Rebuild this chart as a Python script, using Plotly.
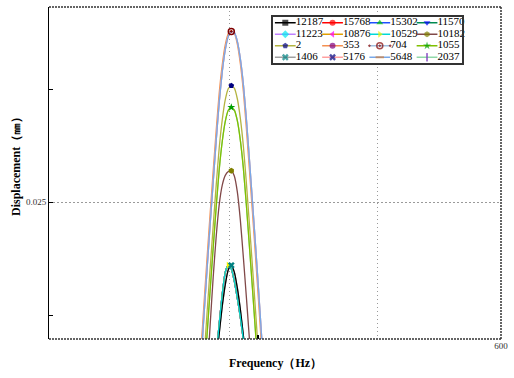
import plotly.graph_objects as go

# ---------------- data ----------------
freq_hz = [194, 198, 202, 206, 210, 214, 218, 222, 226, 230, 234, 238, 242,
           246, 250, 254, 258, 262, 266, 270, 274, 278, 282, 286, 290]

disp_a_orange = [0.01439, 0.01652, 0.01860, 0.02063, 0.02262, 0.02453, 0.02639, 0.02820, 0.02984,
                 0.03108, 0.03196, 0.03245, 0.03258, 0.03247, 0.03199, 0.03112, 0.02990, 0.02826,
                 0.02645, 0.02458, 0.02268, 0.02070, 0.01866, 0.01660, 0.01447]
disp_a_blue = [0.01386, 0.01599, 0.01808, 0.02012, 0.02212, 0.02405, 0.02592, 0.02775, 0.02943,
               0.03077, 0.03174, 0.03233, 0.03255, 0.03250, 0.03211, 0.03134, 0.03021, 0.02867,
               0.02690, 0.02505, 0.02316, 0.02120, 0.01917, 0.01712, 0.01500]
disp_b_olive = [0.01196, 0.01409, 0.01617, 0.01820, 0.02019, 0.02210, 0.02396, 0.02577, 0.02741,
                0.02865, 0.02953, 0.03002, 0.03015, 0.03004, 0.02957, 0.02870, 0.02748, 0.02585,
                0.02404, 0.02218, 0.02027, 0.01828, 0.01625, 0.01417, 0.01204]
disp_c_green = [0.01100, 0.01313, 0.01521, 0.01724, 0.01923, 0.02114, 0.02300, 0.02481, 0.02645,
                0.02769, 0.02857, 0.02906, 0.02919, 0.02907, 0.02860, 0.02773, 0.02650, 0.02487,
                0.02306, 0.02121, 0.01931, 0.01732, 0.01529, 0.01321, 0.01108]
disp_d_brown = [0.00740, 0.00995, 0.01245, 0.01490, 0.01730, 0.01960, 0.02170, 0.02350, 0.02490,
                0.02575, 0.02618, 0.02635, 0.02639, 0.02615, 0.02545, 0.02420, 0.02255, 0.02080,
                0.01895, 0.01705, 0.01510, 0.01310, 0.01105, 0.00895, 0.00680]
disp_e_cyan = [0.00635, 0.00820, 0.01000, 0.01175, 0.01345, 0.01510, 0.01670, 0.01822, 0.01963,
               0.02093, 0.02190, 0.02221, 0.02205, 0.02150, 0.02075, 0.01990, 0.01890, 0.01775,
               0.01650, 0.01515, 0.01370, 0.01220, 0.01065, 0.00905, 0.00740]
disp_e_dark = [0.00635, 0.00815, 0.00990, 0.01160, 0.01325, 0.01485, 0.01640, 0.01785, 0.01920,
               0.02040, 0.02135, 0.02200, 0.02220, 0.02190, 0.02120, 0.02025, 0.01910, 0.01780,
               0.01640, 0.01490, 0.01335, 0.01175, 0.01010, 0.00840, 0.00665]

series_names = ["12187", "15768", "15302", "11570", "11223", "10876", "10529", "10182",
                "2", "353", "704", "1055", "1406", "5176", "5648", "2037"]

x_grid_vals = [239.3, 436.0, 600]
x_tick_text = ["", "", "600"]
x_minor_vals = [277.8]
y_label_vals = [0.025]
y_label_text = ["0.025"]
y_minor_vals = [0.02, 0.03]

series_data = {
    "12187": disp_e_dark, "15768": disp_e_cyan, "15302": disp_e_cyan, "11570": disp_e_cyan,
    "11223": disp_e_cyan, "10876": disp_e_cyan, "10529": disp_e_cyan, "10182": disp_d_brown,
    "2": disp_b_olive, "353": disp_a_orange, "704": disp_a_blue, "1055": disp_c_green,
    "1406": disp_e_dark, "5176": disp_a_blue, "5648": disp_a_blue, "2037": disp_c_green,
}

# ---------------- styles ----------------
styles = {
    "12187": dict(line="#000000", sym="square", mcol="#000000"),
    "15768": dict(line="#ff0000", sym="circle", mcol="#ff0000"),
    "15302": dict(line="#1f4fff", sym="triangle-up", mcol="#00c000"),
    "11570": dict(line="#008a50", sym="triangle-down", mcol="#0000ff"),
    "11223": dict(line="#c080ff", sym="diamond", mcol="#00e8f0"),
    "10876": dict(line="#e0a000", sym="triangle-left", mcol="#ff00ff"),
    "10529": dict(line="#00d8d8", sym="triangle-right", mcol="#f0f000"),
    "10182": dict(line="#804848", sym="hexagon", mcol="#808000"),
    "2": dict(line="#b4b440", sym="pentagon", mcol="#000080"),
    "353": dict(line="#f49050", sym="circle", mcol="#800080"),
    "704": dict(line="#a0c0e0", sym="circle-open-dot", mcol="#800000"),
    "1055": dict(line="#80c000", sym="star", mcol="#00a000"),
    "1406": dict(line="#a0a0a0", sym="x", mcol="#008080"),
    "5176": dict(line="#ffa0a0", sym="x", mcol="#000080"),
    "5648": dict(line="#78a8e8", sym="line-ew", mcol="#d08040"),
    "2037": dict(line="#90d8a8", sym="line-ns", mcol="#8040c0"),
}
draw_order = ["2037", "15768", "15302", "11570", "11223", "10876", "1406", "12187", "10529",
              "10182", "1055", "2", "353", "704", "5176", "5648"]
peak_marker_shown = ["10529", "1406", "10182", "1055", "2", "704"]


def marker_dict(name, size):
    st = styles[name]
    sym = st["sym"]
    d = dict(symbol=sym, size=size, color=st["mcol"])
    if sym in ("line-ew", "line-ns"):
        d["line"] = dict(color=st["mcol"], width=2)
    elif sym == "circle-open-dot":
        d["line"] = dict(color=st["mcol"], width=1.5)
    else:
        d["line"] = dict(width=0)
    return d


fig = go.Figure()

# curves
for name in draw_order:
    fig.add_trace(go.Scatter(
        x=freq_hz, y=series_data[name], mode="lines", name=name, showlegend=False,
        line=dict(color=styles[name]["line"], width=1.3, shape="spline", smoothing=0.5),
        hoverinfo="skip", xaxis="x", yaxis="y"))

# peak markers
for name in peak_marker_shown:
    vals = series_data[name]
    k = vals.index(max(vals))
    fig.add_trace(go.Scatter(
        x=[freq_hz[k]], y=[vals[k]], mode="markers", showlegend=False,
        marker=marker_dict(name, 6), hoverinfo="skip", xaxis="x", yaxis="y"))

# legend box background (white panel of the legend axes)
fig.add_trace(go.Scatter(
    x=[0, 4, 4, 0, 0], y=[0, 0, 4, 4, 0], mode="lines", fill="toself",
    fillcolor="white", line=dict(width=0), showlegend=False, hoverinfo="skip",
    xaxis="x2", yaxis="y2"))

# legend (4 columns x 4 rows) in its own small axes
for i, name in enumerate(series_names):
    r, c = divmod(i, 4)
    fig.add_trace(go.Scatter(
        x=[c + 0.04, c + 0.26, c + 0.48], y=[r + 0.5] * 3,
        mode="lines+markers+text", text=["", "", name], textposition="middle right",
        textfont=dict(family="Liberation Serif", size=11, color="#000000"),
        line=dict(color=styles[name]["line"], width=1.5),
        marker={**marker_dict(name, 6), "size": [0, 6, 0]},
        showlegend=False, hoverinfo="skip", cliponaxis=False,
        xaxis="x2", yaxis="y2"))

border = dict(color="#333333", width=1.5, dash="2px,1px")
fig.update_layout(
    width=514, height=378, autosize=False,
    margin=dict(l=49, r=13, t=7, b=39),
    paper_bgcolor="white", plot_bgcolor="white",
    showlegend=False,
    font=dict(family="Liberation Serif", color="#000000"),
    xaxis=dict(range=[0, 600], tickmode="array", tickvals=x_grid_vals, ticktext=x_tick_text,
               ticks="", showgrid=True, gridcolor="#9a9a9a", gridwidth=1, griddash="1px,3px",
               zeroline=False, showline=False,
               minor=dict(tickmode="array", tickvals=x_minor_vals, ticks="inside",
                          ticklen=4, tickcolor="#000000", tickwidth=1.5, showgrid=False),
               tickfont=dict(family="Liberation Serif", size=9, color="#333333")),
    yaxis=dict(range=[0.01894, 0.03363], tickmode="array", tickvals=y_label_vals,
               ticktext=y_label_text, ticks="inside", ticklen=4, tickcolor="#000000",
               showgrid=True, gridcolor="#9a9a9a", gridwidth=1, griddash="2px,2px",
               zeroline=False, showline=True, linecolor="#000000", linewidth=1,
               minor=dict(tickmode="array", tickvals=y_minor_vals, ticks="inside",
                          ticklen=4, tickcolor="#000000", showgrid=False),
               tickfont=dict(family="Liberation Serif", size=9, color="#333333")),
    xaxis2=dict(domain=[0.4956, 0.9137], range=[0, 4], anchor="y2", showgrid=False,
                zeroline=False, showticklabels=False, ticks="", showline=True, mirror=True,
                linecolor="#333333", linewidth=1.5, fixedrange=True),
    yaxis2=dict(domain=[0.8313, 0.9699], range=[4, 0], anchor="x2", showgrid=False,
                zeroline=False, showticklabels=False, ticks="", showline=True, mirror=True,
                linecolor="#333333", linewidth=1.5, fixedrange=True),
    shapes=[
        dict(type="line", xref="paper", yref="paper", x0=0, x1=1, y0=1, y1=1, line=border),
        dict(type="line", xref="paper", yref="paper", x0=1, x1=1, y0=0, y1=1, line=border),
        dict(type="line", xref="paper", yref="paper", x0=0, x1=1, y0=0, y1=0, line=border),
    ],
    annotations=[
        dict(text="<b>Frequency（Hz）</b>", xref="paper", yref="paper", x=0.5, y=-0.072,
             showarrow=False, xanchor="center", yanchor="middle",
             font=dict(family="Liberation Serif", size=12, color="#000000")),
        dict(text="<b>Displacement（㎜）</b>", xref="paper", yref="paper", x=-0.073, y=0.527,
             showarrow=False, xanchor="center", yanchor="middle", textangle=-90,
             font=dict(family="Liberation Serif", size=12, color="#000000")),
    ],
)

fig.write_html("out.html")
